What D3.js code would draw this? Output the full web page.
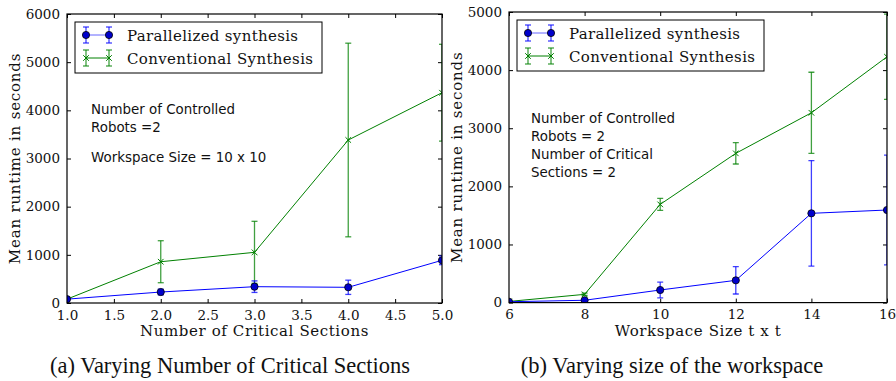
<!DOCTYPE html>
<html><head><meta charset="utf-8">
<script src="https://cdn.jsdelivr.net/npm/d3@7"></script>
<style>body{margin:0;background:#fff}svg{display:block}</style>
</head><body><svg id="c" width="896" height="381"></svg>
<script>
// Panel (a)
const critSections = [1, 2, 3, 4, 5];
const parA = [80, 228, 339, 326, 886];
const parAErr = [20, 60, 120, 148, 90];
const convA = [80, 857, 1052, 3384, 4366];
const convAErr = [20, 436, 644, 2010, 1005];
const xTicksA = [1.0, 1.5, 2.0, 2.5, 3.0, 3.5, 4.0, 4.5, 5.0];
const yTicksA = [0, 1000, 2000, 3000, 4000, 5000, 6000];
// Panel (b)
const wsSizes = [6, 8, 10, 12, 14, 16];
const parB = [15, 40, 217, 383, 1536, 1593];
const parBErr = [5, 10, 135, 235, 908, 945];
const convB = [20, 142, 1690, 2568, 3266, 4229];
const convBErr = [5, 20, 103, 183, 697, 733];
const xTicksB = [6, 8, 10, 12, 14, 16];
const yTicksB = [0, 1000, 2000, 3000, 4000, 5000];

const seriesNames = ["Parallelized synthesis", "Conventional Synthesis"];
const legendTextLen = [171, 186];

const svg = d3.select("#c");
const BLUE = "#0000ff", GREEN = "#008000";

function panel(opt) {
  const {id, left, right, top, bottom, xDomain, yDomain, xTicks, yTicks, xFmt,
         xs, par, parErr, conv, convErr, xLabel, notes, notesX, notesY, notesDy, caption, capX} = opt;
  const x = d3.scaleLinear().domain(xDomain).range([left, right]);
  const y = d3.scaleLinear().domain(yDomain).range([bottom, top]);
  const g = svg.append("g");
  g.append("clipPath").attr("id", id).append("rect")
    .attr("x", left).attr("y", top).attr("width", right - left).attr("height", bottom - top);
  const tl = 4;
  const axB = d3.axisBottom(x).tickValues(xTicks).tickSize(-tl).tickPadding(tl + 3).tickFormat(xFmt);
  const axT = d3.axisTop(x).tickValues(xTicks).tickSize(-tl).tickFormat("");
  const axL = d3.axisLeft(y).tickValues(yTicks).tickSize(-tl).tickPadding(tl + 3).tickFormat(d3.format("d"));
  const axR = d3.axisRight(y).tickValues(yTicks).tickSize(-tl).tickFormat("");
  [[axB, `translate(0,${bottom})`], [axT, `translate(0,${top})`], [axL, `translate(${left},0)`], [axR, `translate(${right},0)`]]
    .forEach(([a, t]) => {
      const s = g.append("g").attr("transform", t).call(a);
      s.select(".domain").remove();
      s.selectAll("line").attr("stroke", "#000");
      s.selectAll("text").attr("font-family", "DejaVu Serif").attr("font-size", 13.5).attr("fill", "#111");
    });
  const plot = g.append("g").attr("clip-path", `url(#${id})`);
  function series(vals, errs, color, marker) {
    const pts = xs.map((d, i) => ({x: d, y: vals[i], e: errs[i]}));
    const eb = plot.append("g").attr("stroke", color).attr("stroke-opacity", 0.75).attr("stroke-width", 1.3);
    pts.forEach(p => {
      eb.append("line").attr("x1", x(p.x)).attr("x2", x(p.x)).attr("y1", y(p.y - p.e)).attr("y2", y(p.y + p.e));
      [p.y - p.e, p.y + p.e].forEach(v => eb.append("line")
        .attr("x1", x(p.x) - 3).attr("x2", x(p.x) + 3).attr("y1", y(v)).attr("y2", y(v)));
    });
    plot.append("path").datum(pts).attr("fill", "none").attr("stroke", color).attr("stroke-width", 1)
      .attr("d", d3.line().x(d => x(d.x)).y(d => y(d.y)));
    pts.forEach(p => drawMarker(plot, x(p.x), y(p.y), marker, color));
  }
  series(conv, convErr, GREEN, "x");
  series(par, parErr, BLUE, "o");
  g.append("rect").attr("x", left).attr("y", top).attr("width", right - left).attr("height", bottom - top)
    .attr("fill", "none").attr("stroke", "#000").attr("stroke-width", 1.2);
  // legend
  const lg = g.append("g");
  lg.append("rect").attr("x", left + 8).attr("y", top + 8).attr("width", 247).attr("height", 51)
    .attr("fill", "#fff").attr("stroke", "#000").attr("stroke-width", 1);
  [[BLUE, "o", seriesNames[0]], [GREEN, "x", seriesNames[1]]].forEach(([c, m, name], i) => {
    const ly = top + 21 + i * 23, lx1 = left + 19, lx2 = left + 42;
    const e = lg.append("g").attr("stroke", c).attr("stroke-opacity", 0.75).attr("stroke-width", 1.3);
    [lx1, lx2].forEach(px => {
      e.append("line").attr("x1", px).attr("x2", px).attr("y1", ly - 8).attr("y2", ly + 8);
      e.append("line").attr("x1", px - 3).attr("x2", px + 3).attr("y1", ly - 8).attr("y2", ly - 8);
      e.append("line").attr("x1", px - 3).attr("x2", px + 3).attr("y1", ly + 8).attr("y2", ly + 8);
    });
    lg.append("line").attr("x1", lx1).attr("x2", lx2).attr("y1", ly).attr("y2", ly)
      .attr("stroke", c).attr("stroke-width", 1).attr("stroke-opacity", m === "o" ? 0.6 : 1);
    drawMarker(lg, lx1, ly, m, c); drawMarker(lg, lx2, ly, m, c);
    lg.append("text").attr("x", left + 60).attr("y", ly + 5.5).text(name)
      .attr("textLength", legendTextLen[i]).attr("lengthAdjust", "spacing")
      .attr("font-family", "DejaVu Serif").attr("font-size", 15).attr("fill", "#111");
  });
  notes.forEach((t, i) => g.append("text").attr("x", notesX).attr("y", notesY + notesDy[i]).text(t)
    .attr("font-family", "DejaVu Sans").attr("font-size", 13.4).attr("fill", "#111"));
  g.append("text").attr("x", (left + right) / 2).attr("y", bottom + 33).attr("text-anchor", "middle").text(xLabel)
    .attr("font-family", "DejaVu Serif").attr("font-size", 15).attr("letter-spacing", 0.6).attr("fill", "#111");
  g.append("text").attr("transform", `translate(${left - 47},${(top + bottom) / 2}) rotate(-90)`)
    .attr("text-anchor", "middle").text("Mean runtime in seconds")
    .attr("font-family", "DejaVu Serif").attr("font-size", 15).attr("letter-spacing", 0.8).attr("fill", "#111");
  g.append("text").attr("x", capX).attr("y", 373).attr("text-anchor", "middle").text(caption)
    .attr("font-family", "Liberation Serif").attr("font-size", 22.5).attr("fill", "#111");
}

function drawMarker(sel, cx, cy, m, c) {
  if (m === "o") {
    sel.append("circle").attr("cx", cx).attr("cy", cy).attr("r", 3.6).attr("fill", "#0000cc").attr("stroke", "#000").attr("stroke-width", 0.8);
  } else {
    const s = 2.8;
    sel.append("path").attr("d", `M${cx - s},${cy - s}L${cx + s},${cy + s}M${cx - s},${cy + s}L${cx + s},${cy - s}`)
      .attr("stroke", c).attr("stroke-width", 1).attr("fill", "none");
  }
}

panel({id: "ca", left: 67, right: 442, top: 14, bottom: 303, xDomain: [1, 5], yDomain: [0, 6000],
  xTicks: xTicksA, yTicks: yTicksA, xFmt: d3.format(".1f"), xs: critSections, par: parA, parErr: parAErr,
  conv: convA, convErr: convAErr, xLabel: "Number of Critical Sections",
  notes: ["Number of Controlled", "Robots =2", "Workspace Size = 10 x 10"], notesX: 91, notesY: 114, notesDy: [0, 18, 48],
  caption: "(a) Varying Number of Critical Sections", capX: 230});
panel({id: "cb", left: 509, right: 887, top: 12, bottom: 302.6, xDomain: [6, 16], yDomain: [0, 5000],
  xTicks: xTicksB, yTicks: yTicksB, xFmt: d3.format("d"), xs: wsSizes, par: parB, parErr: parBErr,
  conv: convB, convErr: convBErr, xLabel: "Workspace Size t x t",
  notes: ["Number of Controlled", "Robots = 2", "Number of Critical", "Sections = 2"], notesX: 531, notesY: 123, notesDy: [0, 18, 36, 54],
  caption: "(b) Varying size of the workspace", capX: 672});
</script></body></html>
